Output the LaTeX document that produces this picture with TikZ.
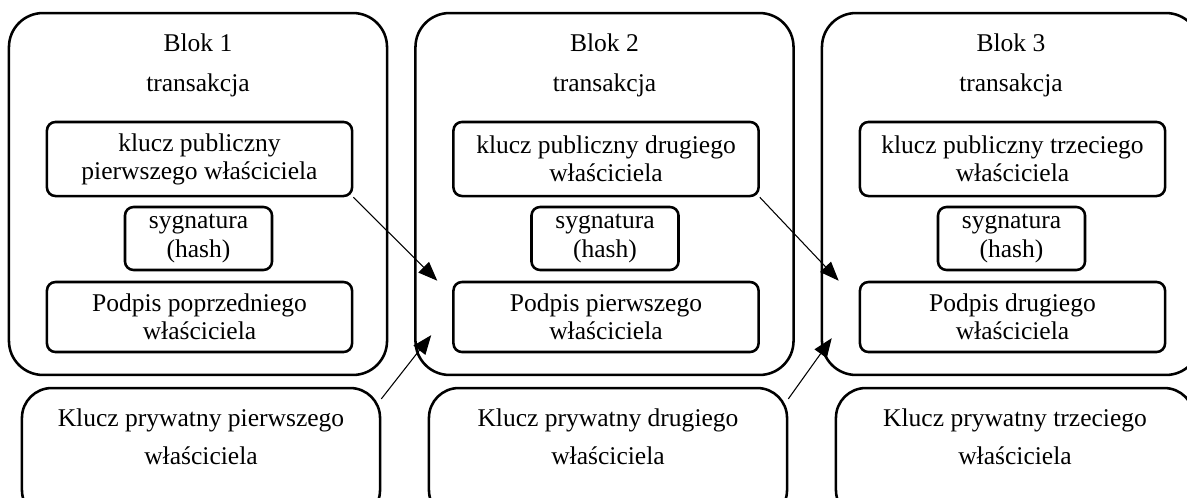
\documentclass[tikz,border=0pt]{standalone}
\usepackage{fontspec}
\setmainfont{Liberation Serif}
\usetikzlibrary{arrows.meta}

\begin{document}
\begin{tikzpicture}[x=0.47pt,y=-0.47pt,line join=round,>={Triangle[length=9pt,width=7pt]},
	blok/.style={draw,line width=1.2pt,rounded corners=16pt,minimum width=177.7pt,minimum height=170.1pt},
	pole/.style={draw,line width=1.2pt,rounded corners=4pt,align=center,inner sep=0pt,font=\fontsize{12}{13.2}\selectfont},
	prywatny/.style={draw,line width=1.2pt,rounded corners=14pt,minimum width=168.3pt,minimum height=62pt},
	napis/.style={align=center,inner sep=0pt}]
	\useasboundingbox (0,0) rectangle (1187,497);
	\foreach \i/\pub/\pod/\prv in {%
		1/{klucz publiczny\\pierwszego właściciela}/{Podpis poprzedniego\\właściciela}/{Klucz prywatny pierwszego\\właściciela},%
		2/{klucz publiczny drugiego\\właściciela}/{Podpis pierwszego\\właściciela}/{Klucz prywatny drugiego\\właściciela},%
		3/{klucz publiczny trzeciego\\właściciela}/{Podpis drugiego\\właściciela}/{Klucz prywatny trzeciego\\właściciela}}{
		\pgfmathsetmacro{\bx}{198+406.5*(\i-1)}
		\pgfmathsetmacro{\px}{201+407*(\i-1)}
		\node[blok](blk\i) at (\bx,194){};
		\node[napis,font=\fontsize{12}{18.8}\selectfont](ttl\i) at ([yshift=-25.4pt]blk\i.north){Blok \i\\transakcja};
		\node[pole,minimum width=143.4pt,minimum height=34.8pt](pub\i) at (\bx+1.5,159){\pub};
		\node[pole,minimum width=69.1pt,minimum height=29.6pt](syg\i) at (\bx+0.5,238.5){sygnatura\\(hash)};
		\node[pole,minimum width=143.4pt,minimum height=32.9pt](pod\i) at (\bx+1.5,317){\pod};
		\node[prywatny](prv\i) at (\px,454){};
		\node[napis,font=\fontsize{12}{17.4}\selectfont](prvt\i) at ([yshift=-23.5pt]prv\i.north){\prv};
	}
	% klucze publiczne -> podpisy
	\draw[->,line width=0.5pt](pub1.south east)--([xshift=-7pt]pod2.north west);
	\draw[->,line width=0.5pt](pub2.south east)--([xshift=-9.4pt]pod3.north west);
	% klucze prywatne -> bloki
	\draw[->,line width=0.5pt](prv1.17)--([xshift=8pt,yshift=19.3pt]blk2.south west);
	\draw[->,line width=0.5pt](prv2.17)--([xshift=5.2pt,yshift=17.9pt]blk3.south west);
\end{tikzpicture}
\end{document}
